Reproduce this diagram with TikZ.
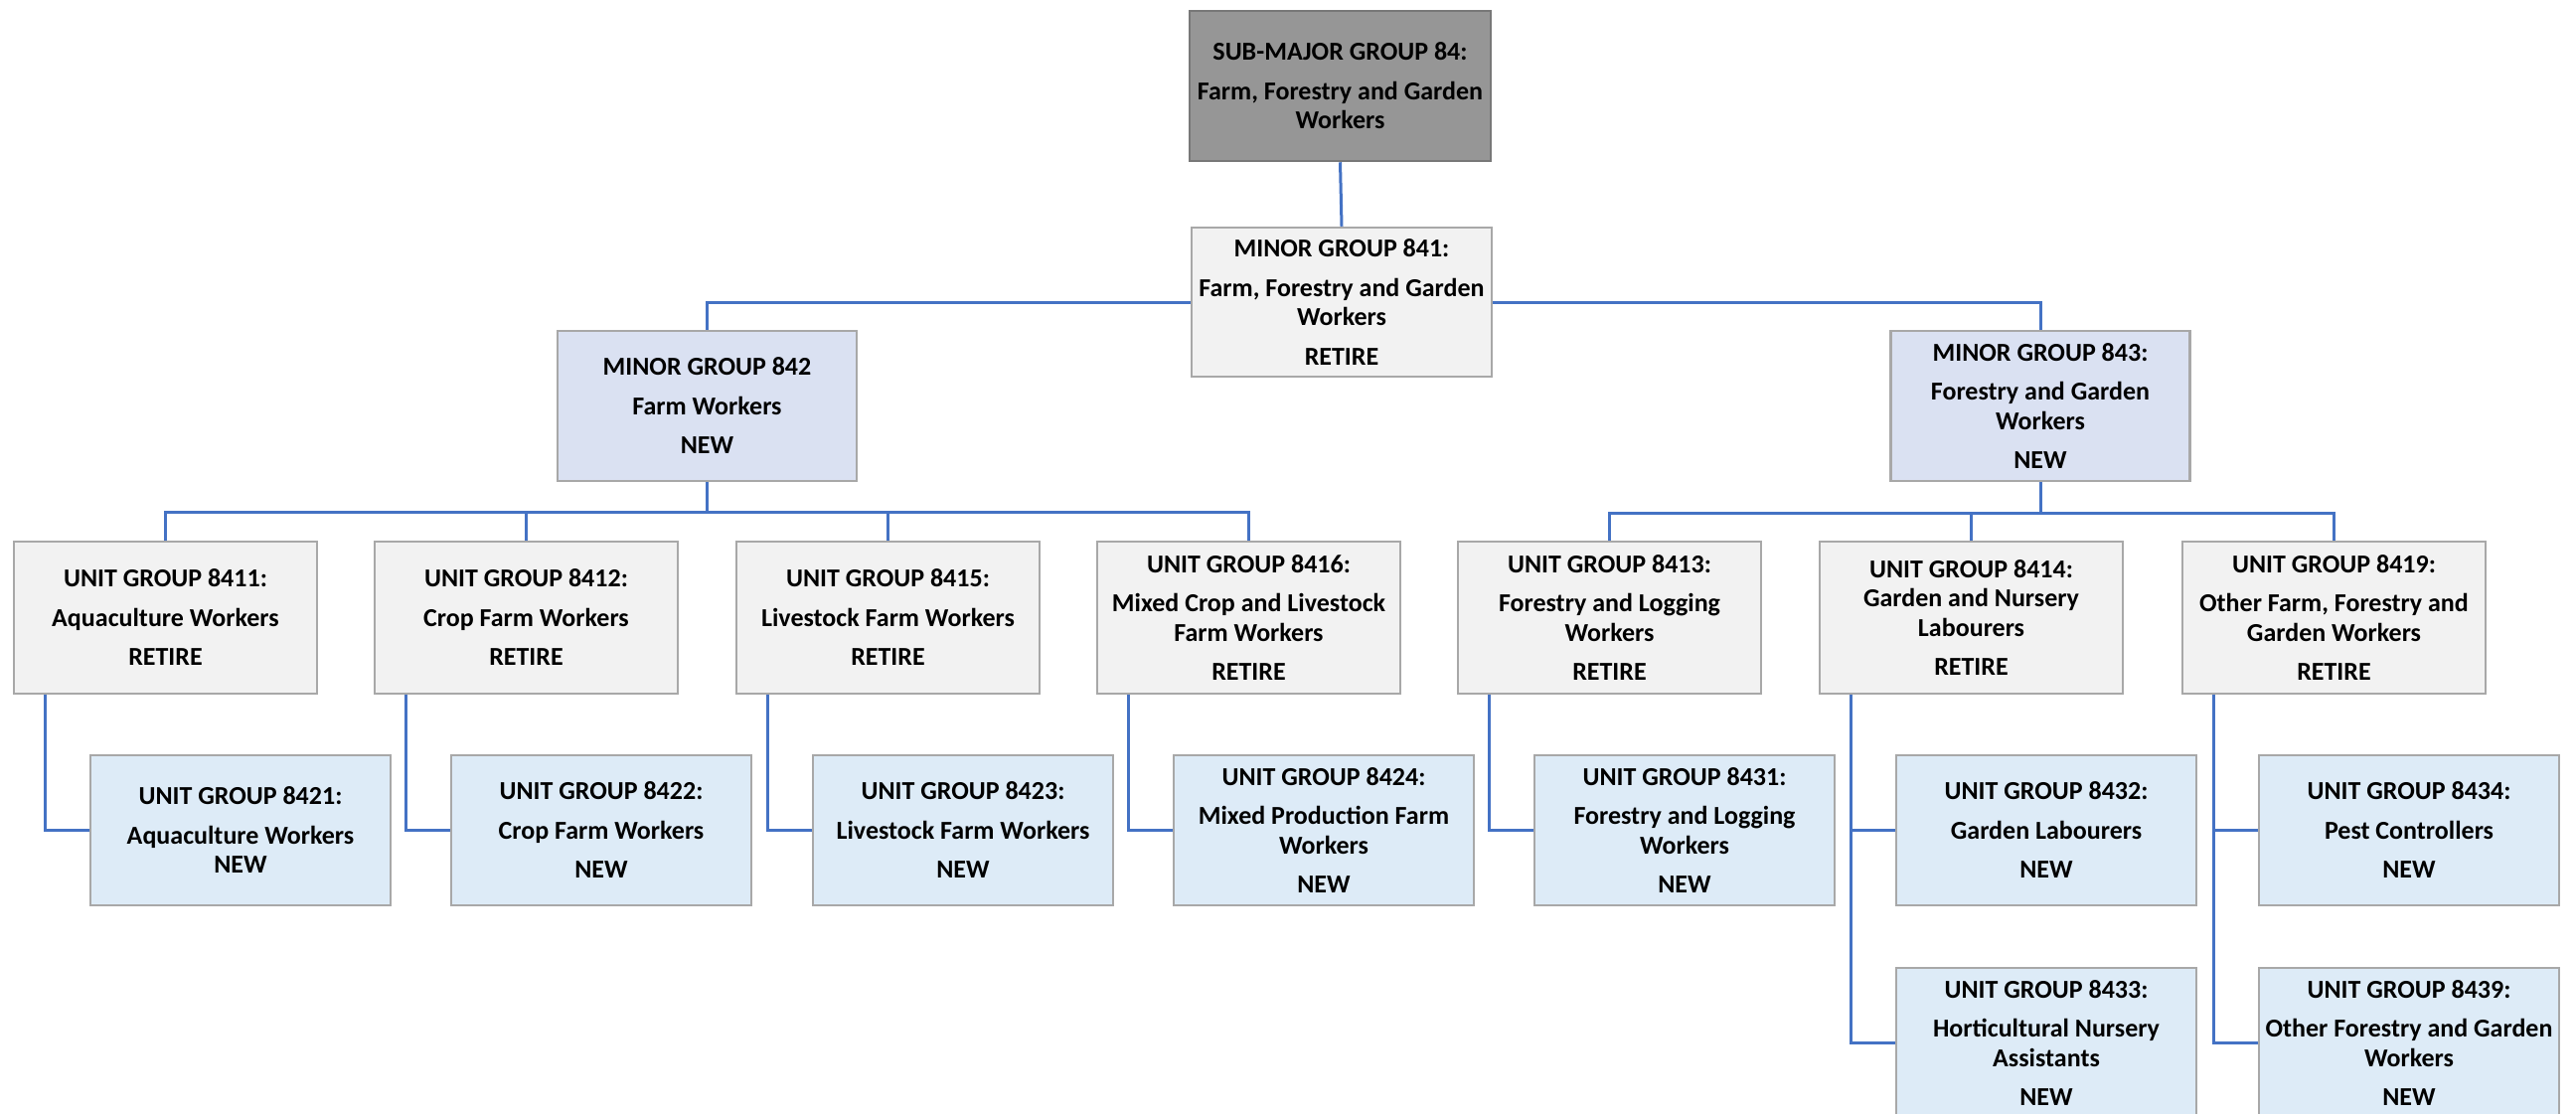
\documentclass[tikz,border=0pt]{standalone}
\usepackage{fontspec}
\setmainfont{Carlito}
\definecolor{conn}{RGB}{68,114,196}
\definecolor{retire}{RGB}{242,242,242}
\definecolor{minnew}{RGB}{218,225,242}
\definecolor{unitnew}{RGB}{221,235,247}
\definecolor{bord}{RGB}{168,168,168}
\definecolor{topfill}{RGB}{150,150,150}
\definecolor{topbord}{RGB}{120,120,120}
\newcommand\pb{\\[10pt]}
\begin{document}
\begin{tikzpicture}[x=1pt,y=-1pt,
  box/.style={draw=bord,line width=2.5pt,inner sep=0pt,align=center,
    font=\fontsize{26}{29.5}\selectfont\bfseries,text=black},
  topbox/.style={box,fill=topfill,draw=topbord,minimum width=303pt,minimum height=151pt},
  minret/.style={box,fill=retire,minimum width=302pt,minimum height=150pt},
  minnewbox/.style={box,fill=minnew,minimum width=301pt,minimum height=151pt},
  uret/.style={box,fill=retire,minimum width=305pt,minimum height=153pt},
  unew/.style={box,fill=unitnew,minimum width=302pt,minimum height=151pt},
  link/.style={draw=conn,line width=3pt}]
\useasboundingbox (0,0) rectangle (2592,1120);
\fill[white] (0,0) rectangle (2592,1120);

% levels 1-2
\node[topbox] (t84) at (1348.5,86.5) {SUB-MAJOR GROUP 84:\pb Farm, Forestry and Garden\\Workers};
\node[minret] (m841) at (1350,304) {MINOR GROUP 841:\pb Farm, Forestry and Garden\\Workers\pb RETIRE};
\node[minnewbox] (m842) at (711.5,408.5) {MINOR GROUP 842\pb Farm Workers\pb NEW};
\node[minnewbox] (m843) at (2053,408.5) {MINOR GROUP 843:\pb Forestry and Garden\\Workers\pb NEW};

% unit groups (retire)
\node[uret] (u8411) at (166.5,621.5) {UNIT GROUP 8411:\pb Aquaculture Workers\pb RETIRE};
\node[uret] (u8412) at (529.5,621.5) {UNIT GROUP 8412:\pb Crop Farm Workers\pb RETIRE};
\node[uret] (u8415) at (893.5,621.5) {UNIT GROUP 8415:\pb Livestock Farm Workers\pb RETIRE};
\node[uret] (u8416) at (1256.5,621.5) {UNIT GROUP 8416:\pb Mixed Crop and Livestock\\Farm Workers\pb RETIRE};
\node[uret] (u8413) at (1619.5,621.5) {UNIT GROUP 8413:\pb Forestry and Logging\\Workers\pb RETIRE};
\node[uret] (u8414) at (1983.5,621.5) {UNIT GROUP 8414:\\Garden and Nursery\\Labourers\pb RETIRE};
\node[uret] (u8419) at (2348.5,621.5) {UNIT GROUP 8419:\pb Other Farm, Forestry and\\Garden Workers\pb RETIRE};

% unit groups (new)
\node[unew] (u8421) at (242,835.5) {UNIT GROUP 8421:\pb Aquaculture Workers\\NEW};
\node[unew] (u8422) at (605,835.5) {UNIT GROUP 8422:\pb Crop Farm Workers\pb NEW};
\node[unew] (u8423) at (969,835.5) {UNIT GROUP 8423:\pb Livestock Farm Workers\pb NEW};
\node[unew] (u8424) at (1332,835.5) {UNIT GROUP 8424:\pb Mixed Production Farm\\Workers\pb NEW};
\node[unew] (u8431) at (1695,835.5) {UNIT GROUP 8431:\pb Forestry and Logging\\Workers\pb NEW};
\node[unew] (u8432) at (2059,835.5) {UNIT GROUP 8432:\pb Garden Labourers\pb NEW};
\node[unew] (u8433) at (2059,1049.5) {UNIT GROUP 8433:\pb Horticultural Nursery\\Assistants\pb NEW};
\node[unew] (u8434) at (2424,835.5) {UNIT GROUP 8434:\pb Pest Controllers\pb NEW};
\node[unew] (u8439) at (2424,1049.5) {UNIT GROUP 8439:\pb Other Forestry and Garden\\Workers\pb NEW};

% connectors
\draw[link] (t84.south) -- (m841.north);
\draw[link] (m841.west) -| (m842.north);
\draw[link] (m841.east) -| (m843.north);
\foreach \c in {u8411,u8412,u8415,u8416}
  \draw[link] (m842.south) -- ([yshift=-30pt]m842.south) -| (\c.north);
\foreach \c in {u8413,u8414,u8419}
  \draw[link] (m843.south) -- ([yshift=-31pt]m843.south) -| (\c.north);
\draw[link] ([xshift=33pt]u8411.south west) |- (u8421.west);
\draw[link] ([xshift=33pt]u8412.south west) |- (u8422.west);
\draw[link] ([xshift=33pt]u8415.south west) |- (u8423.west);
\draw[link] ([xshift=33pt]u8416.south west) |- (u8424.west);
\draw[link] ([xshift=33pt]u8413.south west) |- (u8431.west);
\draw[link] ([xshift=33pt]u8414.south west) |- (u8432.west);
\draw[link] ([xshift=33pt]u8414.south west) |- (u8433.west);
\draw[link] ([xshift=33pt]u8419.south west) |- (u8434.west);
\draw[link] ([xshift=33pt]u8419.south west) |- (u8439.west);
\end{tikzpicture}
\end{document}
